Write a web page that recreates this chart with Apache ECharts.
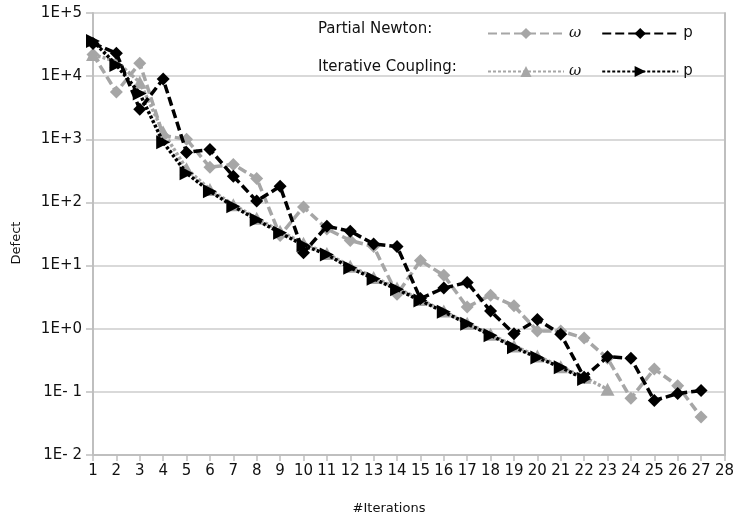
<!DOCTYPE html>
<html>
<head>
<meta charset="utf-8">
<script src="https://cdn.jsdelivr.net/npm/echarts@6/dist/echarts.min.js"></script>
<style>
html,body{margin:0;padding:0;background:#fff;}
#chart{width:737px;height:521px;}
</style>
</head>
<body>
<div id="chart"></div>
<script>
var iterations = [1,2,3,4,5,6,7,8,9,10,11,12,13,14,15,16,17,18,19,20,21,22,23,24,25,26,27];
var xTickLabels = ['1','2','3','4','5','6','7','8','9','10','11','12','13','14','15','16','17','18','19','20','21','22','23','24','25','26','27','28'];
var yTickLabels = ['1E- 2','1E- 1','1E+0','1E+1','1E+2','1E+3','1E+4','1E+5'];

var pnOmega = [22000,5600,16000,1150,1000,360,400,240,30,85,38,25,20,3.5,12,7.0,2.2,3.4,2.3,0.92,0.92,0.71,0.34,0.079,0.23,0.125,0.04];
var pnP     = [33000,23000,3000,9000,620,690,260,105,180,16,42,35,22,20,3.0,4.4,5.4,1.9,0.83,1.4,0.82,0.17,0.36,0.34,0.073,0.094,0.105];
var icOmega = [22000,17000,8000,1300,340,160,92,56,35,22.5,15.5,9.8,6.5,4.4,2.9,1.9,1.22,0.82,0.53,0.37,0.25,0.17,0.11];
var icP     = [36000,15000,5300,900,290,150,87,53,33,21,15,9.2,6.2,4.2,2.8,1.85,1.2,0.79,0.51,0.35,0.245,0.16];

var seriesNames = ['PN ω','PN p','IC ω','IC p'];
var legendLabels = {'PN ω':'{w|ω}','PN p':'p','IC ω':'{w|ω}','IC p':'p'};

function pairs(vals){ return vals.map(function(v,i){ return [iterations[i], v]; }); }

var GRAY = '#a6a6a6', BLACK = '#000000', FONT = 'DejaVu Sans';
var chart = echarts.init(document.getElementById('chart'), null, {renderer:'canvas'});

var legendBase = {
  orient:'horizontal', left:482, itemWidth:76, itemHeight:14, itemGap:20,
  formatter:function(n){ return legendLabels[n]; },
  textStyle:{fontFamily:FONT, fontSize:15, color:'#111',
    rich:{w:{fontFamily:'DejaVu Serif', fontStyle:'italic', fontSize:15, color:'#111'}}},
  selectedMode:false
};

var yAxisBase = {
  type:'log', logBase:10, min:0.01, max:100000
};

chart.setOption({
  animation:false,
  backgroundColor:'#fff',
  grid:{left:93, right:11, top:13, bottom:66},
  legend:[
    Object.assign({}, legendBase, {data:[seriesNames[0], seriesNames[1]], top:21}),
    Object.assign({}, legendBase, {data:[seriesNames[2], seriesNames[3]], top:59})
  ],
  graphic:[
    {type:'text', left:318, top:22, style:{text:'Partial Newton:', fontFamily:FONT, fontSize:15, fill:'#111'}},
    {type:'text', left:318, top:60, style:{text:'Iterative Coupling:', fontFamily:FONT, fontSize:15, fill:'#111'}},
    {type:'text', x:389, y:509, style:{text:'#Iterations', fontFamily:FONT, fontSize:13, fill:'#111', align:'center', verticalAlign:'middle'}},
    {type:'text', x:17, y:243, rotation:Math.PI/2, style:{text:'Defect', fontFamily:FONT, fontSize:13, fill:'#111', align:'center', verticalAlign:'middle'}}
  ],
  xAxis:{
    type:'value', min:1, max:28, interval:1,
    axisLine:{show:true, lineStyle:{color:'#bfbfbf', width:2}},
    axisTick:{show:true, length:6, lineStyle:{color:'#bfbfbf', width:1.5}},
    axisLabel:{margin:9, fontFamily:FONT, fontSize:15, color:'#111',
      formatter:function(v){ return xTickLabels[Math.round(v)-1]; }},
    splitLine:{show:false}
  },
  yAxis:[
    Object.assign({}, yAxisBase, {
      position:'left',
      axisLine:{show:true, lineStyle:{color:'#bfbfbf', width:2}},
      axisTick:{show:true, length:7, lineStyle:{color:'#bfbfbf', width:1.5}},
      minorTick:{show:false},
      axisLabel:{margin:11, fontFamily:FONT, fontSize:15, color:'#111',
        formatter:function(v){ var e=Math.round(Math.log10(v)); return yTickLabels[e+2]; }},
      splitLine:{show:true, lineStyle:{color:'#d9d9d9', width:2}}
    }),
    Object.assign({}, yAxisBase, {
      position:'right',
      axisLine:{show:true, onZero:false, lineStyle:{color:'#bfbfbf', width:2}},
      axisTick:{show:false}, axisLabel:{show:false}, splitLine:{show:false}
    })
  ],
  series:[
    {name:seriesNames[0], type:'line', data:pairs(pnOmega), yAxisIndex:0,
      symbol:'diamond', symbolSize:13, showAllSymbol:true,
      lineStyle:{color:GRAY, width:3.5, type:[9,4]}, itemStyle:{color:GRAY}, z:2},
    {name:seriesNames[2], type:'line', data:pairs(icOmega), yAxisIndex:0,
      symbol:'triangle', symbolSize:[14,13], showAllSymbol:true,
      lineStyle:{color:GRAY, width:3.5, type:[3,2]}, itemStyle:{color:GRAY}, z:3},
    {name:seriesNames[1], type:'line', data:pairs(pnP), yAxisIndex:0,
      symbol:'diamond', symbolSize:13, showAllSymbol:true,
      lineStyle:{color:BLACK, width:3.5, type:[9,4]}, itemStyle:{color:BLACK}, z:4},
    {name:seriesNames[3], type:'line', data:pairs(icP), yAxisIndex:0,
      symbol:'path://M0,0L10,5L0,10Z', symbolSize:[14,14], showAllSymbol:true,
      lineStyle:{color:BLACK, width:3.5, type:[3,2]}, itemStyle:{color:BLACK}, z:5}
  ]
});
</script>
</body>
</html>
